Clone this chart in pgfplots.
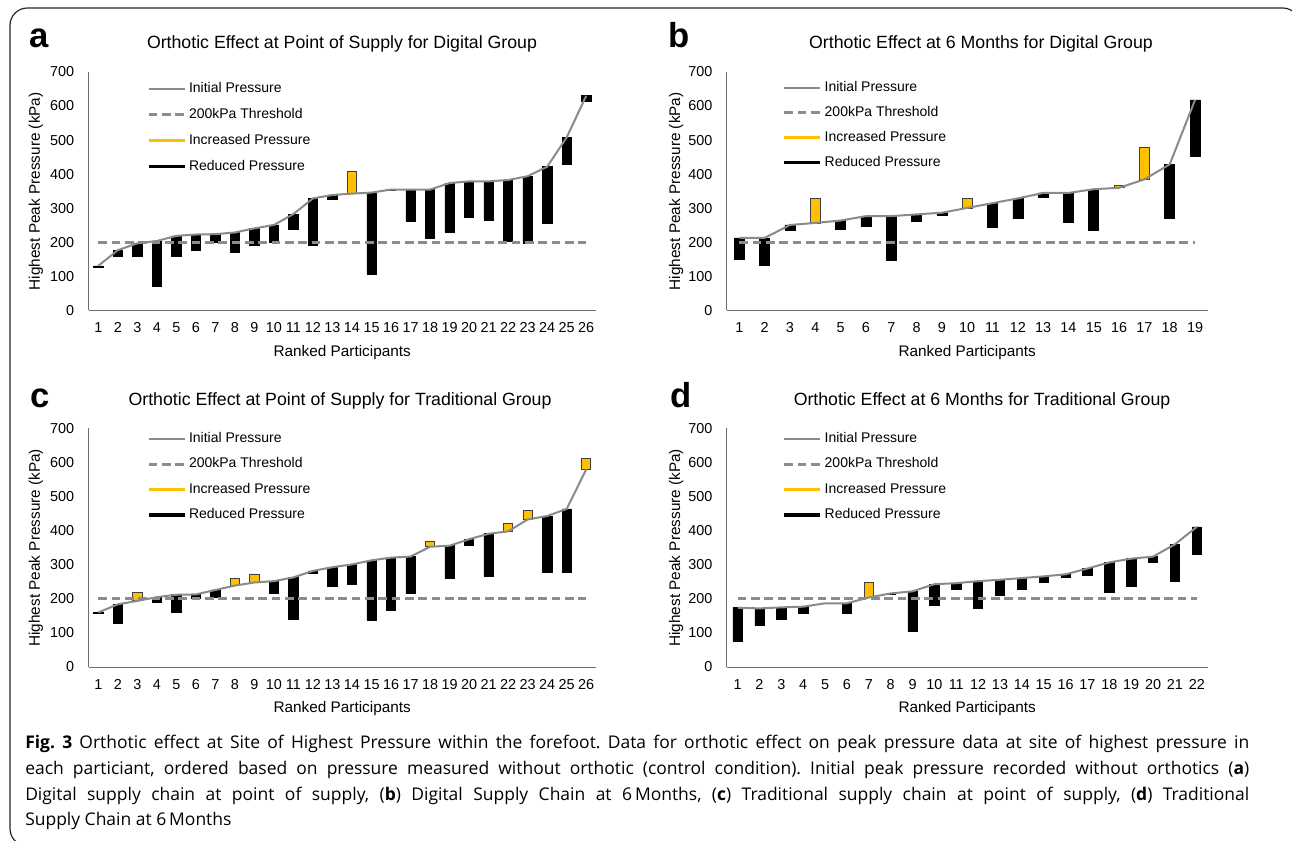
\documentclass[border=0pt]{standalone}
\usepackage{pgfplots}
\usepackage{pgfplotstable}
\pgfplotsset{compat=1.18}
\usepackage{fontspec}
\setmainfont{Liberation Sans}
\newfontfamily\capfont{Open Sans}

\definecolor{barY}{HTML}{FFC000}
\definecolor{lineG}{HTML}{8A8A8A}
\definecolor{thrG}{HTML}{8C8C8C}
\definecolor{axG}{HTML}{6E6E6E}

\pgfplotstableread{
x init fin
1 131 128
2 177 158
3 197 158
4 204 72
5 219 158
6 223 177
7 224 201
8 229 170
9 241 190
10 251 199
11 283 237
12 329 192
13 339 326
14 343 408
15 346 106
16 355 352
17 355 263
18 355 213
19 374 230
20 379 273
21 379 266
22 383 204
23 394 198
24 422 256
25 508 430
26 630 613
}\tA

\pgfplotstableread{
x init fin
1 213 150
2 213 134
3 251 236
4 257 330
5 264 239
6 277 246
7 277 146
8 282 262
9 287 279
10 301 330
11 315 243
12 329 269
13 345 331
14 345 259
15 356 236
16 360 366
17 385 479
18 429 270
19 618 452
}\tB

\pgfplotstableread{
x init fin
1 160 157
2 184 129
3 194 220
4 205 190
5 212 160
6 213 201
7 226 203
8 239 259
9 248 273
10 252 216
11 263 141
12 282 275
13 293 236
14 301 242
15 313 137
16 321 167
17 324 216
18 353 370
19 356 259
20 375 357
21 391 266
22 398 422
23 433 460
24 443 279
25 464 279
26 580 612
}\tC

\pgfplotstableread{
x init fin
1 174 76
2 172 121
3 175 140
4 177 157
5 187 187
6 187 157
7 204 247
8 216 214
9 222 105
10 243 182
11 246 228
12 252 171
13 256 210
14 261 228
15 266 248
16 272 264
17 289 268
18 307 219
19 318 238
20 324 306
21 360 252
22 411 330
}\tD

\pgfplotsset{
  common/.style={scale only axis, anchor=south west, ymin=0, ymax=700, xmin=0.5,
    height=178.9pt},
  barax/.style={common, hide axis, ybar stacked},
  lineax/.style={common,
    axis lines*=left,
    axis line style={axG, line width=0.75pt},
    major tick length=0pt,
    ytick={0,100,...,700},
    xtick={1,...,#1},
    /pgf/number format/assume math mode=true,
    tick label style={font=\fontsize{10.8}{12}\selectfont},
    xticklabel style={anchor=center, yshift=-13.1pt},
    yticklabel style={anchor=east, inner sep=0pt, xshift=-10.5pt},
    xlabel={Ranked Participants},
    ylabel={Highest Peak Pressure (kPa)},
    label style={font=\fontsize{11.5}{13}\selectfont},
    xlabel style={at={(axis description cs:0.5,0)}, anchor=center, yshift=-31.3pt},
    legend cell align=left,
    legend style={draw=none, fill=none, anchor=north west, inner sep=0pt,
      font=\fontsize{10.5}{12}\selectfont, column sep=2pt,
      nodes={inner sep=0pt, text height=7.4pt, text depth=2pt}},
    legend image code/.code={\draw[##1] (0pt,0pt) -- (27pt,0pt);},
  },
}

\newcommand{\bars}[1]{%
  \addplot[draw=none, fill=none] table[x=x, y expr={min(\thisrow{init},\thisrow{fin})}] {#1};
  \addplot[fill=black, draw=black, line width=0.5pt] table[x=x, y expr={max(\thisrow{init}-\thisrow{fin},0)}] {#1};
  \addplot[fill=barY, draw=black!75, line width=0.6pt] table[x=x, y expr={max(\thisrow{fin}-\thisrow{init},0)}] {#1};
}
\newcommand{\lines}[2]{%
  \addplot[lineG, line width=1.5pt] table[x=x, y=init] {#1};
  \addlegendentry{Initial Pressure}
  \addplot[thrG, line width=2.2pt, dash pattern=on 6.5pt off 3.5pt] coordinates {(1,200) (#2,200)};
  \addlegendentry{200kPa Threshold}
  \addlegendimage{barY, line width=2.3pt}
  \addlegendentry{Increased Pressure}
  \addlegendimage{black, line width=2.3pt}
  \addlegendentry{Reduced Pressure}
}

\begin{document}
\frenchspacing
\begin{tikzpicture}
\begin{scope}[x=0.75pt, y=-0.75pt]
  \path[use as bounding box] (0,0) rectangle (1292,841);
  \begin{scope}
    \clip (0,0) rectangle (1292,841);
    \draw[line width=0.9pt, black!85, rounded corners=13pt] (10,8) rectangle (1300,846);
  \end{scope}
  % panel letters
  \node[anchor=base west, font=\fontsize{26}{28}\selectfont\bfseries, inner sep=0pt] at (29,48) {a};
  \node[anchor=base west, font=\fontsize{26}{28}\selectfont\bfseries, inner sep=0pt] at (668,48) {b};
  \node[anchor=base west, font=\fontsize{26}{28}\selectfont\bfseries, inner sep=0pt] at (30,407) {c};
  \node[anchor=base west, font=\fontsize{26}{28}\selectfont\bfseries, inner sep=0pt] at (670,407) {d};
  % titles
  \node[font=\fontsize{13.3}{15}\selectfont, inner sep=0pt] at (342,44) {Orthotic Effect at Point of Supply for Digital Group};
  \node[font=\fontsize{13.3}{15}\selectfont, inner sep=0pt] at (981,44) {Orthotic Effect at 6 Months for Digital Group};
  \node[font=\fontsize{13.3}{15}\selectfont, inner sep=0pt] at (340,401) {Orthotic Effect at Point of Supply for Traditional Group};
  \node[font=\fontsize{13.3}{15}\selectfont, inner sep=0pt] at (982,401) {Orthotic Effect at 6 Months for Traditional Group};
  % caption
  \node[anchor=north west, inner sep=0pt, align=left, font=\capfont\fontsize{13.1}{19.3}\selectfont] at (25,735) {%
    \makebox[918pt][s]{\textbf{Fig. 3} Orthotic effect at Site of Highest Pressure within the forefoot. Data for orthotic effect on peak pressure data at site of highest pressure in}\\
    \makebox[918pt][s]{each particiant, ordered based on pressure measured without orthotic (control condition). Initial peak pressure recorded without orthotics (\textbf{a})}\\
    \makebox[918pt][s]{Digital supply chain at point of supply, (\textbf{b}) Digital Supply Chain at 6\,Months, (\textbf{c}) Traditional supply chain at point of supply, (\textbf{d}) Traditional}\\
    Supply Chain at 6\,Months};
\end{scope}

% ---------- panel a ----------
\begin{axis}[barax, at={({88.5*0.75pt},{-310.5*0.75pt})}, width=380.6pt, xmax=26.5, bar width=7pt]
\bars{\tA}
\end{axis}
\begin{axis}[lineax=26, at={({88.5*0.75pt},{-310.5*0.75pt})}, width=380.6pt, xmax=26.5,
  ylabel style={at={(axis description cs:-0.1034,0.5)}, anchor=center},
  legend style={at={(0.1153,0.958)}, row sep=10.1pt}]
\lines{\tA}{26}
\end{axis}

% ---------- panel b ----------
\begin{axis}[barax, at={({726.7*0.75pt},{-310.5*0.75pt})}, width=360.75pt, xmax=19.5, bar width=7.5pt]
\bars{\tB}
\end{axis}
\begin{axis}[lineax=19, at={({726.7*0.75pt},{-310.5*0.75pt})}, width=360.75pt, xmax=19.5,
  ylabel style={at={(axis description cs:-0.105,0.5)}, anchor=center},
  legend style={at={(0.1164,0.962)}, row sep=9.35pt}]
\lines{\tB}{19}
\end{axis}

% ---------- panel c ----------
\begin{axis}[barax, at={({88.5*0.75pt},{-667*0.75pt})}, width=380.6pt, xmax=26.5, bar width=7pt]
\bars{\tC}
\end{axis}
\begin{axis}[lineax=26, at={({88.5*0.75pt},{-667*0.75pt})}, width=380.6pt, xmax=26.5,
  ylabel style={at={(axis description cs:-0.1034,0.5)}, anchor=center},
  legend style={at={(0.1153,0.985)}, row sep=9.7pt}]
\lines{\tC}{26}
\end{axis}

% ---------- panel d ----------
\begin{axis}[barax, at={({726.7*0.75pt},{-667*0.75pt})}, width=360.75pt, xmax=22.5, bar width=7pt]
\bars{\tD}
\end{axis}
\begin{axis}[lineax=22, at={({726.7*0.75pt},{-667*0.75pt})}, width=360.75pt, xmax=22.5,
  ylabel style={at={(axis description cs:-0.105,0.5)}, anchor=center},
  legend style={at={(0.1164,0.985)}, row sep=9.7pt}]
\lines{\tD}{22}
\end{axis}
\end{tikzpicture}
\end{document}
